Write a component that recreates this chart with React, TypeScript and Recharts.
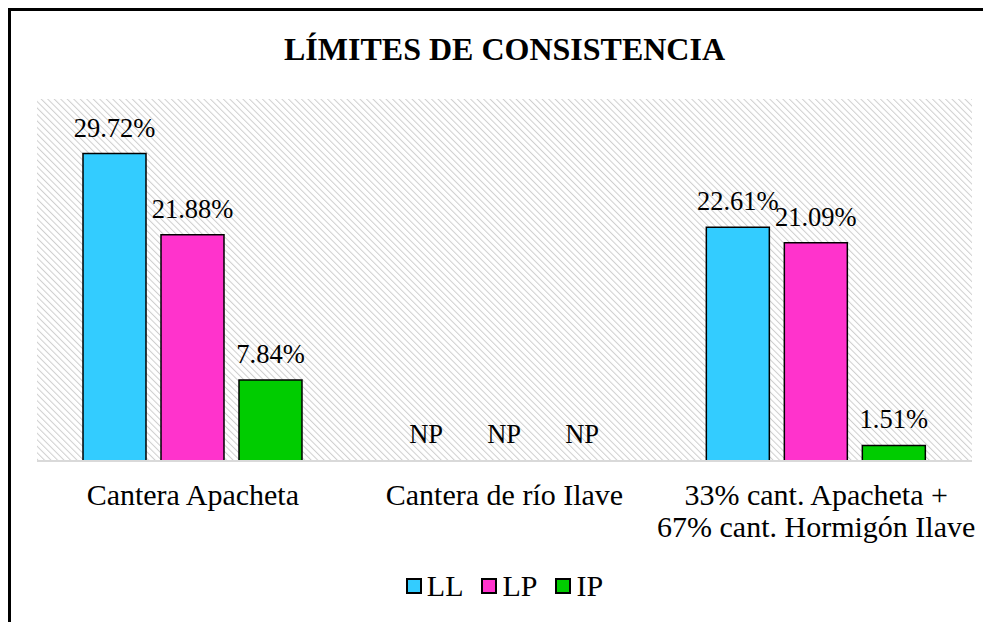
import { BarChart, Bar, XAxis, YAxis, CartesianGrid, Legend, LabelList, Cell } from 'recharts'

const categories = ['Cantera Apacheta', 'Cantera de río Ilave', '33% cant. Apacheta + 67% cant. Hormigón Ilave']
const tickLines = [['Cantera Apacheta'], ['Cantera de río Ilave'], ['33% cant. Apacheta +', '67% cant. Hormigón Ilave']]

// 0 = no plástico (NP)
const llValues = [29.72, 0, 22.61]
const lpValues = [21.88, 0, 21.09]
const ipValues = [7.84, 0, 1.51]

const series = [
  { key: 'll', name: 'LL', color: '#33CCFF', values: llValues },
  { key: 'lp', name: 'LP', color: '#FF33CC', values: lpValues },
  { key: 'ip', name: 'IP', color: '#00CC00', values: ipValues },
]

const data = categories.map((name, i) => ({
  name,
  ll: llValues[i],
  lp: lpValues[i],
  ip: ipValues[i],
}))

const FONT = '"Liberation Serif", "Times New Roman", serif'

const fmt = (v: number) => (v === 0 ? 'NP' : `${v.toFixed(2)}%`)

function ValueLabel(props: any) {
  const { x, y, width, value } = props
  return (
    <text x={x + width / 2} y={y - 17} textAnchor="middle" fontFamily={FONT} fontSize={26.5} fill="#000">
      {fmt(value)}
    </text>
  )
}

function CategoryTick(props: any) {
  const { x, y, payload } = props
  const lines = tickLines[payload.index] || [payload.value]
  return (
    <text x={x} y={y} textAnchor="middle" fontFamily={FONT} fontSize={30} fill="#000">
      {lines.map((l: string, i: number) => (
        <tspan key={i} x={x} dy={i === 0 ? 44 : 32}>
          {l}
        </tspan>
      ))}
    </text>
  )
}

function LegendBox() {
  return (
    <div
      style={{
        display: 'flex',
        justifyContent: 'center',
        alignItems: 'center',
        height: 40,
        fontFamily: FONT,
        fontSize: 30,
        color: '#000',
      }}
    >
      {series.map((s, i) => (
        <span key={s.key} style={{ display: 'flex', alignItems: 'center', marginLeft: i === 0 ? 0 : 18 }}>
          <span
            style={{
              width: 12,
              height: 12,
              background: s.color,
              border: '2px solid #000',
              marginRight: 5,
            }}
          />
          {s.name}
        </span>
      ))}
    </div>
  )
}

export default function App() {
  return (
    <div
      style={{
        position: 'relative',
        width: 983,
        height: 614,
        boxSizing: 'border-box',
        borderLeft: '3px solid #000',
        borderTop: '3px solid #000',
        background: '#fff',
        overflow: 'hidden',
      }}
    >
      <svg width={0} height={0} style={{ position: 'absolute' }}>
        <defs>
          <pattern id="hatch" width={4.6} height={4.6} patternUnits="userSpaceOnUse" patternTransform="rotate(-45)">
            <rect width={4.6} height={4.6} fill="#fff" />
            <line x1={0} y1={0} x2={0} y2={4.6} stroke="#cfcfcf" strokeWidth={2} />
          </pattern>
        </defs>
      </svg>
      <div
        style={{
          position: 'absolute',
          top: 23,
          left: 0,
          width: 980,
          textAlign: 'center',
          fontFamily: FONT,
          fontWeight: 'bold',
          fontSize: 32,
          lineHeight: '31px',
          paddingLeft: 7,
          boxSizing: 'border-box',
        }}
      >
        LÍMITES DE CONSISTENCIA
      </div>
      <BarChart
        width={980}
        height={611}
        data={data}
        margin={{ top: 88, right: 19, left: 26, bottom: 16 }}
        barSize={63}
        barGap={15}
      >
        <CartesianGrid horizontal={false} vertical={false} fill="url(#hatch)" />
        <XAxis
          dataKey="name"
          axisLine={{ stroke: '#d9d9d9', strokeWidth: 2 }}
          tickLine={false}
          tickSize={0}
          tickMargin={0}
          height={105}
          interval={0}
          tick={<CategoryTick />}
        />
        <YAxis hide domain={[0, 35]} />
        <Legend verticalAlign="bottom" content={<LegendBox />} />
        {series.map((s) => (
          <Bar
            key={s.key}
            dataKey={s.key}
            name={s.name}
            fill={s.color}
            stroke="#000"
            strokeWidth={1.5}
            minPointSize={1}
            isAnimationActive={false}
          >
            {s.values.map((v, i) => (
              <Cell
                key={i}
                fill={v === 0 ? 'transparent' : s.color}
                stroke={v === 0 ? 'none' : '#000'}
              />
            ))}
            <LabelList dataKey={s.key} content={<ValueLabel />} />
          </Bar>
        ))}
      </BarChart>
    </div>
  )
}
